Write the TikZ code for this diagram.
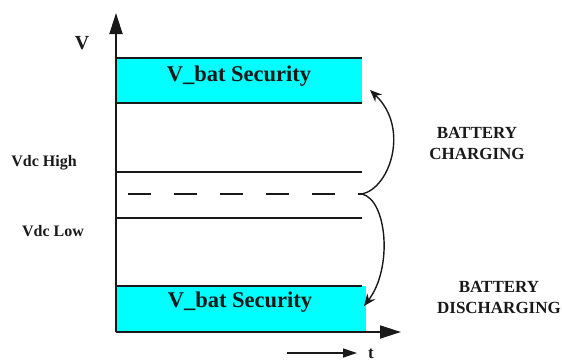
\documentclass[tikz,border=0pt]{standalone}
\usepackage{fontspec}
\setmainfont{Liberation Serif}
\usetikzlibrary{arrows.meta}
\definecolor{bandcyan}{RGB}{0,255,255}
\definecolor{ink}{RGB}{25,25,25}
\begin{document}
\begin{tikzpicture}[x=1pt,y=-1pt,
  band/.style={fill=bandcyan, draw=none, inner sep=0pt},
  bandtext/.style={font=\bfseries\fontsize{22.5}{26}\selectfont, text=ink},
  lbl/.style={font=\bfseries\fontsize{16}{18}\selectfont, text=ink},
  sidelbl/.style={font=\bfseries\fontsize{17}{21}\selectfont, text=ink, align=center},
  level/.style={draw=ink, line width=1.3pt},
  axis/.style={draw=ink, line width=1.8pt, -{Triangle[length=21pt,width=13pt]}},
  swing/.style={draw=ink, line width=1.4pt, -{Stealth[length=12pt,width=10pt]}}]
\useasboundingbox (0,0) rectangle (562,362);

% security bands
\node[band, minimum width=246pt, minimum height=45pt] (topband) at (239,80.5) {};
\node[band, minimum width=250pt, minimum height=46pt] (botband) at (241,309) {};
\node[bandtext] (toptxt) at (239,76) {V\_bat Security};
\node[bandtext] (bottxt) at (240,302) {V\_bat Security};

% band edges
\coordinate (tl) at (116,58);  \coordinate (tr) at (362,58);
\coordinate (bl) at (116,103); \coordinate (br) at (362,103);
\coordinate (ql) at (116,286); \coordinate (qr) at (362,286);
\draw[level] (tl) -- (tr);
\draw[level] (bl) -- (br);
\draw[level] (ql) -- (qr);

% Vdc levels and mid dashed line
\coordinate (hl) at (116,172); \coordinate (hr) at (362,172);
\coordinate (ll) at (116,218); \coordinate (lr) at (362,218);
\coordinate (ml) at (116,194); \coordinate (J) at (362,194);
\draw[level] (hl) -- (hr);
\draw[level] (ll) -- (lr);
\draw[draw=ink, line width=1.8pt, dash pattern=on 23pt off 23pt, dash phase=34pt] (ml) -- (J);

% axes
\coordinate (O) at (116,332);
\coordinate (vtop) at (116,13);
\coordinate (tend) at (401,332);
\draw[axis] (O) -- (vtop);
\draw[axis] (O) -- (tend);

% time direction arrow
\coordinate (ta) at (287,353);
\coordinate (tb) at (357,353);
\draw[draw=ink, line width=1.3pt, -{Triangle[length=14pt,width=9pt]}] (ta) -- (tb);
\node[lbl, font=\bfseries\fontsize{17}{20}\selectfont, anchor=north, inner sep=0pt] (tlabel) at (371,349) {t};

% axis and level labels
\node[lbl, font=\bfseries\fontsize{20}{22}\selectfont] (vlabel) at (82,43) {V};
\node[lbl] (vhigh) at (44,163) {Vdc High};
\node[lbl] (vlow) at (53,231) {Vdc Low};

% charge / discharge swings
\coordinate (upT) at (370,90);
\coordinate (dnT) at (364,306);
\draw[swing] (J) .. controls (390,188) and (410,128) .. (upT);
\draw[swing] (J) .. controls (387,200) and (393,268) .. (dnT);

\node[sidelbl] (chg) at (477,143) {BATTERY\\CHARGING};
\node[sidelbl] (dischg) at (499,297) {BATTERY\\DISCHARGING};
\end{tikzpicture}
\end{document}
